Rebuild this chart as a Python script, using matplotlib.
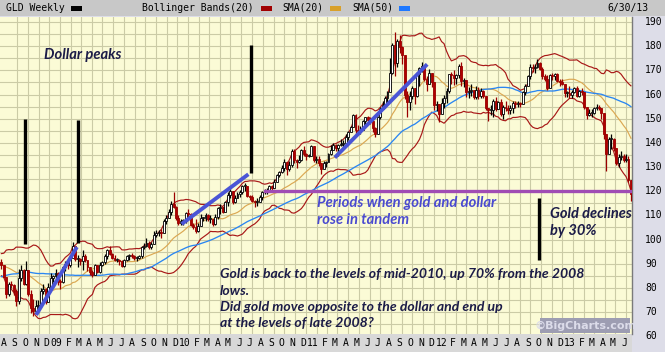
import matplotlib
matplotlib.use('Agg')
import matplotlib.pyplot as plt
import matplotlib.dates as mdates
import matplotlib.transforms as mtrans
from matplotlib.patches import Rectangle
import numpy as np
import pandas as pd

# GLD weekly closes before the visible window (only used to seed SMA(50) and BB(20))
close_pre = [66.5, 66.8, 69.0, 70.5, 72.5, 73.0, 72.8, 74.5, 75.8, 77.5, 80.5, 81.5, 78.5, 80.5, 77.8, 78.5, 78.0, 79.8, 82.5,
             85.5, 87.5, 86.0, 90.0, 89.5, 90.0, 89.5, 93.5, 96.5, 96.0, 98.5, 90.5, 92.0, 89.5, 91.5, 90.5, 87.0, 85.5, 87.5,
             88.0, 90.0, 87.5, 88.5, 85.5, 88.5, 90.5, 91.5, 94.0, 93.5, 90.5]

# visible weeks, Aug 2008 - Jun 2013 (close / high / low)
close_08 = [89.5, 84.5, 77.5, 81.5, 81.0, 78.5, 74.5, 84.0, 87.5, 81.5, 87.5, 77.5, 71.5, 70.5, 72.5, 73.0, 78.5, 79.5, 74.0, 80.5, 84.0, 85.0]
high_08 = [92.0, 89.5, 84.5, 82.5, 82.8, 81.5, 79.5, 88.0, 89.5, 88.0, 91.0, 87.5, 79.0, 75.5, 75.0, 75.0, 80.0, 81.5, 80.0, 82.0, 86.0, 85.5]
low_08 = [88.0, 84.0, 76.0, 76.5, 80.0, 77.0, 72.5, 73.5, 83.0, 81.0, 81.0, 76.5, 69.5, 68.5, 70.0, 69.5, 72.0, 77.5, 73.5, 74.5, 80.0, 82.5]

close_09 = [86.0, 83.0, 82.5, 88.5, 90.0, 89.5, 92.5, 97.5, 92.0, 92.0, 91.0, 93.0, 91.5, 88.5, 86.5, 85.5, 89.5, 86.5, 89.5, 90.5,
            93.0, 95.5, 94.0, 92.5, 91.5, 91.5, 91.0, 89.0, 91.5, 93.0, 93.5, 93.0, 92.5, 92.5, 93.0, 97.0, 97.5, 98.5, 97.0, 98.0,
            102.0, 102.5, 103.0, 102.5, 107.5, 109.0, 111.5, 114.5, 113.5, 109.0, 107.0, 107.5, 107.5]
high_09 = [88.0, 86.5, 83.5, 89.0, 91.0, 91.0, 93.5, 98.9, 97.5, 93.5, 92.5, 95.5, 94.0, 91.5, 88.5, 87.5, 90.0, 89.0, 90.5, 91.0,
           94.0, 96.0, 97.5, 94.5, 93.5, 92.5, 92.0, 91.5, 92.0, 93.5, 94.0, 94.5, 93.5, 93.0, 93.5, 97.5, 98.5, 100.5, 99.5, 99.0,
           103.5, 103.8, 104.0, 104.5, 108.5, 110.0, 112.5, 116.0, 119.5, 114.0, 110.0, 108.5, 108.5]
low_09 = [84.0, 81.0, 79.5, 82.0, 87.0, 88.0, 88.5, 92.5, 91.0, 88.5, 89.5, 87.5, 90.5, 87.0, 85.5, 84.5, 85.5, 86.0, 86.0, 89.0,
          90.0, 92.0, 93.5, 92.0, 91.0, 90.5, 89.5, 88.5, 88.5, 91.0, 91.5, 92.5, 91.5, 91.0, 92.0, 92.5, 96.0, 97.0, 96.0, 96.0,
          98.0, 101.0, 101.5, 100.5, 102.5, 106.5, 109.0, 110.0, 113.0, 108.0, 106.0, 106.0, 106.0]

close_10 = [111.0, 110.5, 106.0, 105.0, 103.5, 105.5, 109.0, 109.0, 110.0, 108.5, 108.5, 106.5, 109.5, 113.0, 113.5, 111.5, 115.5,
            118.5, 120.0, 115.5, 117.0, 119.0, 119.5, 122.0, 122.0, 118.0, 117.5, 116.0, 115.5, 115.5, 117.5, 119.5, 120.0, 120.5,
            122.0, 121.5, 124.0, 126.5, 128.0, 129.5, 132.0, 129.0, 131.0, 136.5, 133.0, 132.0, 133.0, 137.0, 135.5, 134.5, 134.5, 138.5]
high_10 = [111.5, 112.5, 111.0, 107.0, 108.5, 107.0, 110.5, 109.5, 111.0, 110.5, 110.0, 108.5, 110.5, 113.5, 114.5, 113.5, 115.8,
           119.5, 121.5, 119.5, 118.5, 119.5, 120.5, 122.5, 123.5, 122.0, 118.5, 118.5, 116.5, 117.0, 118.5, 120.0, 121.0, 121.5,
           122.5, 122.5, 125.0, 127.0, 128.5, 131.0, 133.5, 131.5, 132.5, 137.5, 137.5, 133.5, 135.0, 137.5, 138.5, 136.0, 135.5, 139.0]
low_10 = [107.0, 109.0, 105.5, 104.5, 102.5, 103.0, 105.5, 107.5, 107.5, 107.5, 107.0, 105.5, 106.0, 108.5, 110.5, 111.0, 112.5,
          114.0, 117.0, 114.5, 115.0, 117.0, 117.5, 119.0, 120.0, 117.5, 116.5, 115.5, 113.5, 114.0, 115.5, 116.5, 119.0, 119.0,
          120.5, 120.5, 121.5, 124.0, 126.0, 127.5, 128.5, 126.5, 128.5, 130.0, 131.5, 129.5, 131.5, 132.5, 134.5, 133.0, 134.0, 134.5]

close_11 = [133.0, 133.5, 131.5, 129.0, 131.5, 132.0, 135.5, 137.0, 139.0, 138.0, 139.0, 139.5, 140.0, 142.5, 144.5, 146.5, 151.5,
            145.5, 145.0, 145.5, 149.0, 150.5, 149.5, 149.0, 146.0, 143.5, 150.5, 154.0, 155.5, 158.5, 161.0, 169.0, 180.5, 173.0,
            182.0, 179.5, 176.5, 160.0, 157.0, 159.5, 162.5, 159.5, 168.5, 171.0, 172.0, 166.5, 164.5, 169.0, 165.0, 155.5, 156.0, 152.0]
high_11 = [138.0, 134.5, 134.5, 131.5, 132.5, 132.5, 136.0, 139.0, 140.0, 139.5, 139.5, 141.5, 141.0, 143.5, 145.0, 147.0, 152.0,
           152.0, 147.5, 147.0, 149.5, 150.5, 151.0, 150.5, 150.5, 146.5, 151.0, 155.0, 157.5, 159.5, 161.5, 175.0, 181.5, 185.8,
           183.0, 184.5, 180.0, 176.0, 161.5, 161.5, 163.5, 162.5, 169.5, 171.5, 173.5, 172.0, 167.5, 170.5, 168.5, 163.5, 157.5, 156.0]
low_11 = [132.0, 131.5, 130.5, 127.0, 129.0, 130.0, 132.0, 135.0, 137.0, 136.5, 134.5, 138.5, 138.0, 140.0, 141.0, 144.5, 146.5,
          143.0, 144.0, 143.5, 145.5, 147.5, 148.5, 148.0, 144.5, 142.5, 143.5, 150.0, 154.0, 154.5, 156.0, 161.0, 168.5, 167.5,
          171.5, 177.0, 172.5, 158.0, 150.5, 153.5, 158.0, 156.0, 159.0, 163.5, 169.5, 165.5, 161.5, 166.0, 163.0, 153.5, 153.0, 148.5]

close_12 = [156.5, 158.5, 161.5, 168.5, 168.0, 167.0, 168.0, 172.0, 165.5, 166.0, 161.0, 161.5, 162.0, 159.0, 162.0, 159.5, 161.5,
            159.5, 154.5, 153.5, 153.5, 157.5, 154.0, 157.0, 152.0, 155.0, 154.5, 153.5, 154.5, 156.5, 156.0, 156.5, 156.0, 161.0,
            163.5, 167.5, 171.5, 171.0, 171.5, 173.0, 170.5, 167.5, 166.5, 162.5, 168.0, 167.5, 168.5, 165.5, 165.0, 164.5, 160.5, 160.5]
high_12 = [158.5, 160.0, 162.5, 168.5, 169.5, 170.0, 168.5, 172.5, 173.5, 167.0, 166.0, 163.0, 164.5, 162.0, 163.5, 163.0, 162.5,
           162.0, 159.5, 154.5, 155.5, 158.0, 159.0, 157.5, 158.0, 155.5, 157.5, 155.5, 155.5, 157.5, 157.5, 157.5, 157.0, 161.5,
           164.5, 168.0, 172.5, 172.5, 172.5, 174.5, 173.5, 171.5, 168.5, 168.0, 168.5, 169.0, 169.0, 169.0, 166.5, 166.5, 164.5, 161.5]
low_12 = [152.0, 154.5, 156.5, 160.5, 164.5, 164.0, 164.5, 167.0, 163.5, 163.0, 159.0, 158.5, 159.5, 158.0, 158.0, 158.0, 158.5,
          158.5, 153.5, 149.0, 151.5, 150.5, 153.0, 154.0, 151.0, 150.0, 153.0, 152.0, 152.0, 152.5, 154.5, 155.0, 155.0, 156.0,
          160.0, 163.5, 166.5, 169.5, 169.0, 171.0, 170.0, 166.5, 165.5, 162.0, 162.5, 166.0, 166.0, 165.0, 163.5, 164.0, 159.0, 159.0]

close_13 = [160.0, 161.0, 162.5, 159.5, 161.5, 161.0, 155.0, 151.5, 152.5, 152.5, 154.5, 155.0, 154.5, 152.5, 143.5, 135.5, 141.5,
            141.5, 138.0, 131.5, 134.0, 134.5, 133.0, 133.5, 124.5, 119.0]
high_13 = [163.5, 162.0, 163.0, 163.5, 162.0, 162.5, 161.0, 155.0, 154.0, 154.0, 155.0, 156.0, 155.5, 153.5, 152.5, 139.0, 142.5,
           143.5, 142.0, 138.0, 135.5, 136.5, 135.5, 135.5, 134.5, 123.5]
low_13 = [158.5, 158.5, 160.5, 159.0, 159.0, 160.0, 154.0, 150.0, 151.0, 150.5, 152.0, 153.5, 153.5, 150.0, 141.5, 128.5, 135.5,
          137.5, 136.5, 131.0, 130.0, 133.0, 132.0, 132.0, 124.0, 115.9]

month_labels = ['A', 'S', 'O', 'N', 'D',
                '09', 'F', 'M', 'A', 'M', 'J', 'J', 'A', 'S', 'O', 'N', 'D',
                '10', 'F', 'M', 'A', 'M', 'J', 'J', 'A', 'S', 'O', 'N', 'D',
                '11', 'F', 'M', 'A', 'M', 'J', 'J', 'A', 'S', 'O', 'N', 'D',
                '12', 'F', 'M', 'A', 'M', 'J', 'J', 'A', 'S', 'O', 'N', 'D',
                '13', 'F', 'M', 'A', 'M', 'J']

# hand drawn annotations on the original chart
peak_dates = ['2008-10-07', '2009-03-08', '2010-07-12']
peak_top = [149.9, 149.5, 180.5]
peak_bottom = [98.2, 98.6, 127.5]
decline_date = '2012-10-09'
decline_top, decline_bottom = 117.2, 91.5
trend_start = ['2008-11-08', '2009-12-27', '2011-03-08']
trend_start_val = [68.8, 106.4, 133.9]
trend_end = ['2009-03-04', '2010-07-05', '2011-11-26']
trend_end_val = [96.9, 127.0, 172.5]
level_start = '2010-08-21'
level_val = 120.2

close = np.array(close_pre + close_08 + close_09 + close_10 + close_11 + close_12 + close_13)
high_vis = np.array(high_08 + high_09 + high_10 + high_11 + high_12 + high_13)
low_vis = np.array(low_08 + low_09 + low_10 + low_11 + low_12 + low_13)
weeks = pd.date_range('2007-08-24', periods=len(close), freq='W-FRI')

s = pd.Series(close)
sma20 = s.rolling(20).mean()
sma50 = s.rolling(50).mean()
sd20 = s.rolling(20).std(ddof=0)
bb_up = sma20 + 2 * sd20
bb_lo = sma20 - 2 * sd20

n_pre = len(close_pre)
x = mdates.date2num(weeks)
xv = x[n_pre:]
c = close[n_pre:]
o = close[n_pre - 1:-1]          # weekly open taken as prior close
h = np.maximum(high_vis, np.maximum(o, c))
l = np.minimum(low_vis, np.minimum(o, c))
up = c >= o

W, H = 665, 352
fig = plt.figure(figsize=(W / 100, H / 100), dpi=100, facecolor='#dddde8')
ax = fig.add_axes([0, 18 / H, 632 / W, 317 / H])
ax.set_facecolor('#fbfbd6')
d = lambda t: mdates.date2num(pd.Timestamp(t))
ax.set_xlim(d('2008-07-28'), d('2013-07-01'))
ax.set_ylim(60.9, 192.07)

# header + bottom bands
fig.add_artist(Rectangle((0, 1 - 16 / H), 1, 16 / H, transform=fig.transFigure, facecolor='#c8c8c8', edgecolor='none', zorder=-5))
fig.add_artist(Rectangle((0, 0), 632 / W, 18 / H, transform=fig.transFigure, facecolor='#d8d8d8', edgecolor='none', zorder=-5))

# grid
ax.set_yticks(np.arange(65, 191, 5))
grid_x = mdates.date2num(pd.date_range('2008-08-15', '2013-06-15', freq='MS') + pd.Timedelta(days=14))
ax.set_xticks(grid_x)
ax.grid(True, color='#cbcba6', lw=0.8, zorder=0)
ax.tick_params(left=False, bottom=False, labelleft=False, labelbottom=False, length=0)
for sp in ['left', 'top', 'bottom']:
    ax.spines[sp].set_visible(False)
ax.spines['right'].set_color('#7a7a7a')
ax.spines['right'].set_linewidth(1.0)

# indicators
vis = slice(n_pre, None)
ax.plot(xv, bb_up[vis], color='#a81818', lw=0.85, zorder=2)
ax.plot(xv, bb_lo[vis], color='#a81818', lw=0.85, zorder=2)
ax.plot(xv, sma20[vis], color='#dba852', lw=0.85, zorder=2)
ax.plot(xv, sma50[vis], color='#2a86f2', lw=0.95, zorder=2)

# candles
wick_col = np.where(up, 'black', '#9a0000')
ax.vlines(xv, l, h, colors=wick_col, lw=0.9, zorder=3)
body_lo = np.minimum(o, c)
body_h = np.maximum(np.abs(c - o), 0.4)
ax.bar(xv, body_h, bottom=body_lo, width=5.5, color=np.where(up, 'white', '#b00000'),
       edgecolor=wick_col, linewidth=0.6, zorder=4)

# annotations
for dt, top, bot in zip(peak_dates, peak_top, peak_bottom):
    ax.plot([d(dt), d(dt)], [bot, top], color='black', lw=2.4, solid_capstyle='butt', zorder=6)
ax.plot([d(decline_date)] * 2, [decline_bottom, decline_top], color='black', lw=2.4, solid_capstyle='butt', zorder=6)
for s0, v0, s1, v1 in zip(trend_start, trend_start_val, trend_end, trend_end_val):
    ax.plot([d(s0), d(s1)], [v0, v1], color='#4a55d6', lw=2.8, solid_capstyle='butt', zorder=6)
ax.plot([d(level_start), d('2013-07-01')], [level_val, level_val], color='#a04cb4', lw=2.4, zorder=6)

def axp(px, py):
    return px / 632, (334 - py) / 317

fam = ['Lato', 'DejaVu Sans']
navy = '#1c1c48'
ax.text(*axp(44, 59), 'Dollar peaks', transform=ax.transAxes, family=fam, style='italic', weight='bold',
        fontsize=10.6, color=navy, va='baseline', zorder=7)
ax.text(*axp(317, 207), 'Periods when gold and dollar', transform=ax.transAxes, family=fam, style='italic',
        weight='bold', fontsize=10.6, color='#4a4ad0', va='baseline', zorder=7)
ax.text(*axp(317, 224), 'rose in tandem', transform=ax.transAxes, family=fam, style='italic',
        weight='bold', fontsize=10.6, color='#4a4ad0', va='baseline', zorder=7)
ax.text(*axp(550, 218), 'Gold declines', transform=ax.transAxes, family=fam, style='italic',
        weight='bold', fontsize=10.5, color=navy, va='baseline', zorder=7)
ax.text(*axp(550, 235), 'by 30%', transform=ax.transAxes, family=fam, style='italic',
        weight='bold', fontsize=10.5, color=navy, va='baseline', zorder=7)
bottom_lines = ['Gold is back to the levels of mid-2010, up 70% from the 2008', 'lows.',
                'Did gold move opposite to the dollar and end up', 'at the levels of late 2008?']
for txt, py in zip(bottom_lines, [278, 295, 311, 327]):
    ax.text(*axp(220, py), txt, transform=ax.transAxes, family=fam, style='italic', weight='bold',
            fontsize=10.1, color=navy, va='baseline', zorder=7)

# watermark
ax.add_patch(Rectangle(axp(540, 333), 90 / 632, 15 / 317, transform=ax.transAxes, facecolor='#9d9db2',
                       edgecolor='none', zorder=7))
ax.text(*axp(585, 325.5), '\u00a9BigCharts.com', transform=ax.transAxes, ha='center', va='center',
        fontsize=8, weight='bold', color='#dcdcea', family='DejaVu Sans', zorder=8)

# right axis labels
tr_y = mtrans.blended_transform_factory(ax.transAxes, ax.transData)
for v in range(60, 191, 10):
    ax.text(645 / 632, v, str(v), transform=tr_y, ha='left', va='center', fontsize=7,
            family='DejaVu Sans Mono', color='black', clip_on=False)

# month labels
tr_x = mtrans.blended_transform_factory(ax.transData, ax.transAxes)
months = pd.date_range('2008-08-01', '2013-06-01', freq='MS')
for m, lab in zip(months, month_labels):
    off = 4 if len(lab) == 2 else 7
    ax.text(mdates.date2num(m) + off, (334 - 343) / 317, lab, transform=tr_x, ha='center', va='center',
            fontsize=7, family='DejaVu Sans Mono', color='black', clip_on=False)

# header legend
hy = 1 - 8 / H
mono = 'DejaVu Sans Mono'
fig.text(6 / W, hy, 'GLD Weekly', fontsize=7, family=mono, va='center')
fig.text(142 / W, hy, 'Bollinger Bands(20)', fontsize=7, family=mono, va='center')
fig.text(282 / W, hy, 'SMA(20)', fontsize=7, family=mono, va='center')
fig.text(352 / W, hy, 'SMA(50)', fontsize=7, family=mono, va='center')
fig.text(648 / W, hy, '6/30/13', fontsize=7, family=mono, va='center', ha='right')
for x0, col in [(71, 'black'), (261, '#a00000'), (330, '#d8a02a'), (399, '#1e78ff')]:
    fig.add_artist(Rectangle((x0 / W, 1 - 11 / H), 11 / W, 5 / H, transform=fig.transFigure,
                             facecolor=col, edgecolor='none'))

fig.savefig('out.png', dpi=100, facecolor=fig.get_facecolor())
